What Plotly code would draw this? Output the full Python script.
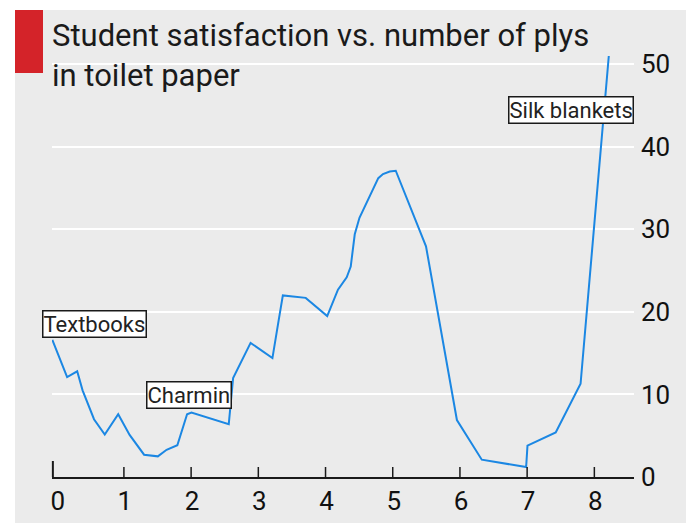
import plotly.graph_objects as go

# Data
plys = [-0.08, 0.14, 0.29, 0.37, 0.54, 0.70, 0.90, 1.07, 1.285, 1.49, 1.62, 1.78,
        1.925, 1.99, 2.545, 2.61, 2.87, 3.195, 3.29, 3.35, 3.69, 4.01, 4.17, 4.24,
        4.30, 4.36, 4.42, 4.49, 4.62, 4.77, 4.84, 4.94, 5.03, 5.48, 5.94, 6.31,
        6.97, 6.99, 7.41, 7.78, 8.20]
satisfaction = [16.6, 12.1, 12.8, 10.5, 7.0, 5.15, 7.6, 5.1, 2.7, 2.5, 3.3, 3.85,
                7.6, 7.8, 6.4, 12.0, 16.25, 14.4, 19.1, 22.0, 21.7, 19.5, 22.7, 23.5,
                24.2, 25.5, 29.4, 31.4, 33.6, 36.2, 36.7, 37.0, 37.1, 27.95, 6.9, 2.1,
                1.2, 3.8, 5.4, 11.3, 51.0]

x_ticks = [0, 1, 2, 3, 4, 5, 6, 7, 8]
y_ticks = [0, 10, 20, 30, 40, 50]

labels = ["Textbooks", "Charmin", "Silk blankets"]
label_x = [0.548, 1.953, 7.64]
label_y = [18.5, 9.93, 44.5]

title_text = "Student satisfaction vs. number of plys<br>in toilet paper"

FONT = "Roboto"
W, H = 694, 523
OFF = 8  # page offset of the figure
ML, MR, MT, MB = 44, 68, 48, 54
PW = W - ML - MR
PH = H - MT - MB


def px_x(p):
    return (p - OFF - ML) / PW


def px_y(p):
    return (H - MB - (p - OFF)) / PH


fig = go.Figure()
fig.add_trace(go.Scatter(
    x=plys, y=satisfaction, mode="lines",
    line=dict(color="#1b87e3", width=2),
    hoverinfo="skip", showlegend=False,
))

for t, ax, ay in zip(labels, label_x, label_y):
    fig.add_annotation(
        x=ax, y=ay, xref="x", yref="y", text=t, showarrow=False,
        font=dict(family=FONT, size=22, color="#222222"),
        bgcolor="white", bordercolor="#1a1a1a", borderwidth=1.5, borderpad=0,
        xanchor="center", yanchor="middle",
    )

# Title
fig.add_annotation(
    x=px_x(50), y=px_y(15), xref="paper", yref="paper", xanchor="left", yanchor="top",
    text=title_text, showarrow=False, align="left",
    font=dict(family=FONT, size=31, color="#1a1a1a"),
)

# Background panel and red tag
fig.add_shape(type="rect", xref="paper", yref="paper", layer="below",
              x0=px_x(15), x1=px_x(692), y0=px_y(531), y1=px_y(10),
              fillcolor="#ebebeb", line=dict(width=0))
fig.add_shape(type="rect", xref="paper", yref="paper",
              x0=px_x(15), x1=px_x(43), y0=px_y(73), y1=px_y(10),
              fillcolor="#d42329", line=dict(width=0))
# Tall end tick at left of x axis
fig.add_shape(type="line", xref="paper", yref="paper",
              x0=0.0015, x1=0.0015, y0=0, y1=16 / PH,
              line=dict(color="#1a1a1a", width=2))
# Inside tick marks (none at 0, as in the reference)
for tv in x_ticks[1:]:
    fig.add_shape(type="line", xref="x", yref="paper",
                  x0=tv - 0.015, x1=tv - 0.015, y0=0, y1=10 / PH,
                  line=dict(color="#1a1a1a", width=1.5))

fig.update_layout(
    width=W, height=H,
    margin=dict(l=ML, r=MR, t=MT, b=MB),
    paper_bgcolor="white", plot_bgcolor="#ebebeb",
    font=dict(family=FONT, color="#111111"),
    xaxis=dict(
        range=[-0.085, 8.575], tickvals=x_ticks, ticks="", showline=True,
        linecolor="#1a1a1a", linewidth=2, showgrid=False, zeroline=False,
        tickfont=dict(family=FONT, size=26, color="#111111"),
    ),
    yaxis=dict(
        range=[0, 51], tickvals=y_ticks, side="right", ticks="",
        showgrid=True, gridcolor="white", gridwidth=1.5, zeroline=False,
        showline=False, ticklabelstandoff=6,
        tickfont=dict(family=FONT, size=26, color="#111111"),
    ),
)

fig.write_html("out.html")
